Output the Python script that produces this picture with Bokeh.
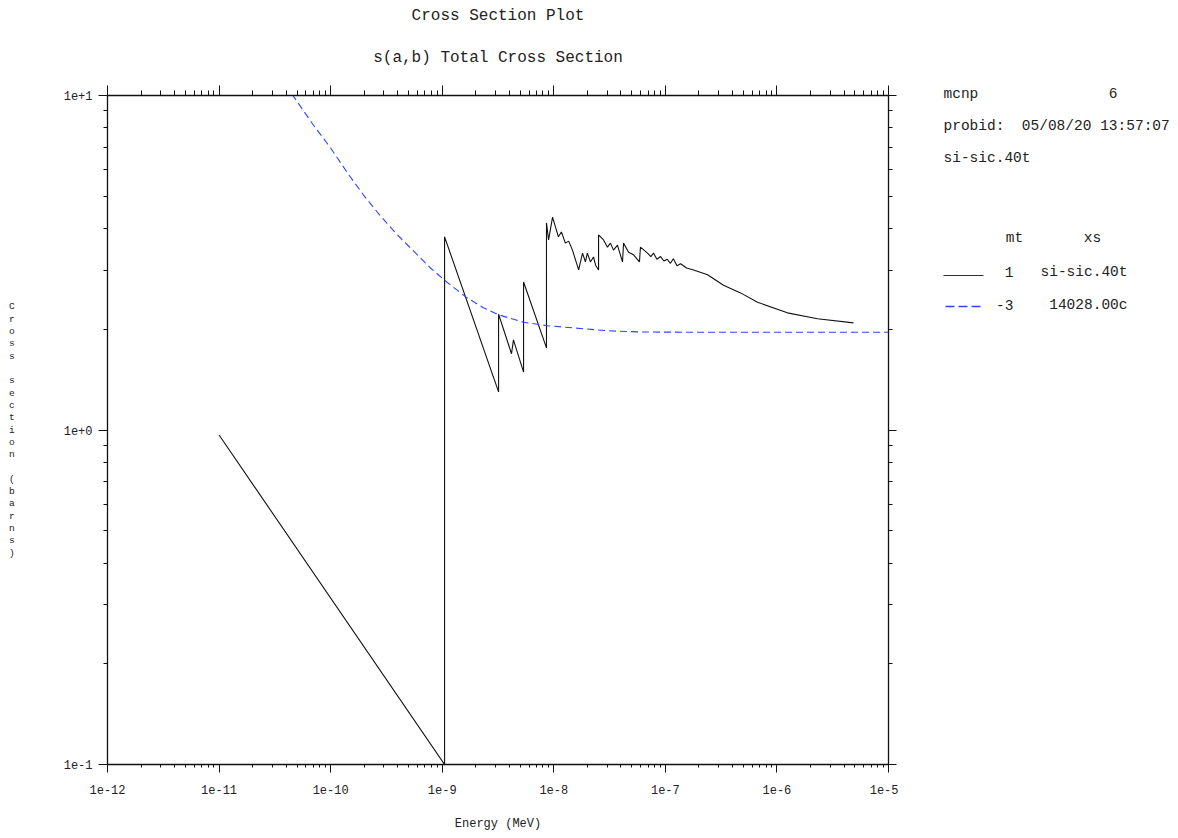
from bokeh.plotting import figure
from bokeh.models import LogAxis, FixedTicker, CustomJSTickFormatter, Range1d, Title
from bokeh.layouts import row
from bokeh.embed import file_html
from bokeh.resources import INLINE
from bokeh.core.properties import value

# ---- data ----
energy_total = [1.0e-11, 1.05e-9, 1.05e-9, 3.20e-9, 3.20e-9, 4.18e-9, 4.35e-9, 5.36e-9, 5.36e-9,
                8.60e-9, 8.60e-9, 8.98e-9, 9.75e-9, 1.10e-8, 1.17e-8, 1.27e-8, 1.36e-8, 1.47e-8,
                1.67e-8, 1.81e-8, 1.92e-8, 2.00e-8, 2.13e-8, 2.27e-8, 2.37e-8, 2.52e-8, 2.52e-8,
                2.79e-8, 3.03e-8, 3.22e-8, 3.43e-8, 3.72e-8, 4.13e-8, 4.22e-8, 4.68e-8, 5.19e-8,
                5.86e-8, 5.98e-8, 6.92e-8, 7.40e-8, 7.83e-8, 8.40e-8, 9.06e-8, 9.70e-8, 1.04e-7,
                1.11e-7, 1.18e-7, 1.27e-7, 1.37e-7, 1.55e-7, 1.79e-7, 2.39e-7, 3.32e-7, 4.72e-7,
                6.70e-7, 1.24e-6, 2.31e-6, 4.85e-6]
xs_total = [0.966, 0.100, 3.78, 1.30, 2.22, 1.69, 1.86, 1.49, 2.77,
            1.76, 4.16, 3.70, 4.33, 3.78, 3.91, 3.62, 3.67, 3.45,
            3.01, 3.38, 3.18, 3.38, 3.18, 3.29, 3.11, 3.01, 3.83,
            3.70, 3.52, 3.62, 3.45, 3.57, 3.18, 3.62, 3.40, 3.34,
            3.18, 3.52, 3.38, 3.30, 3.38, 3.24, 3.30, 3.20, 3.24,
            3.15, 3.25, 3.10, 3.14, 3.05, 3.01, 2.91, 2.71, 2.57,
            2.41, 2.24, 2.15, 2.09]

energy_elastic = [4.5e-11, 7.0e-11, 1.0e-10, 1.42e-10, 1.97e-10, 2.8e-10, 3.97e-10, 5.53e-10,
                  7.85e-10, 1.07e-9, 1.62e-9, 2.34e-9, 3.2e-9, 5.36e-9, 8.79e-9, 1.5e-8, 3.03e-8,
                  5.99e-8, 2.0e-7, 1.0e-5]
xs_elastic = [10.1, 8.16, 6.97, 5.86, 5.04, 4.36, 3.83, 3.43,
              3.05, 2.79, 2.50, 2.32, 2.21, 2.10, 2.05, 2.02, 1.98,
              1.963, 1.96, 1.96]

x_major = [1e-12, 1e-11, 1e-10, 1e-9, 1e-8, 1e-7, 1e-6, 1e-5]
x_tick_labels = ["1e-12", "1e-11", "1e-10", "1e-9", "1e-8", "1e-7", "1e-6", "1e-5"]
y_major = [0.1, 1.0, 10.0]
y_tick_labels = ["1e-1", "1e+0", "1e+1"]
x_minor = [m * 10.0 ** k for k in range(-12, -5) for m in range(2, 10)]
y_minor = [m * 10.0 ** k for k in (-1, 0) for m in range(2, 10)]

title_main = "Cross Section Plot"
title_sub = "s(a,b) Total Cross Section"
code_name, code_version = "mcnp", "6"
info_lines = ["probid:\u00a0 05/08/20 13:57:07", "si-sic.40t"]
legend_head = ["mt", "xs"]
legend_mt = ["1", "-3"]
legend_xs = ["si-sic.40t", "14028.00c"]

FONT = "Liberation Mono"
TXT = "#222222"
BLACK = "#111111"
BLUE = "#2b45ff"

# layout geometry (pixels)
PW, QW, H = 898, 272, 834
FL, FR, FT, FB = 107, 888, 95, 764

fmt_code = """
let best = 0, bd = Infinity;
for (let i = 0; i < vals.length; i++) {
  const d = Math.abs(Math.log10(vals[i]) - Math.log10(tick));
  if (d < bd) { bd = d; best = i; }
}
return labels[best];
"""

p = figure(width=PW, height=H, x_axis_type="log", y_axis_type="log",
           x_range=Range1d(1e-12, 1e-5), y_range=Range1d(0.1, 10),
           output_backend="svg", toolbar_location=None,
           min_border_left=FL, min_border_right=PW - FR, min_border_top=FT, min_border_bottom=H - FB)
p.grid.visible = False
p.outline_line_color = None
p.background_fill_color = "white"
p.border_fill_color = "white"

xt = FixedTicker(ticks=x_major, minor_ticks=x_minor)
yt = FixedTicker(ticks=y_major, minor_ticks=y_minor)
xf = CustomJSTickFormatter(args=dict(vals=x_major, labels=x_tick_labels), code=fmt_code)
yf = CustomJSTickFormatter(args=dict(vals=y_major, labels=y_tick_labels), code=fmt_code)
blank = CustomJSTickFormatter(code="return ' ';")


def style_axis(ax, major_out, minor_out):
    ax.axis_line_color = BLACK
    ax.axis_line_width = 1.3
    ax.major_tick_line_color = BLACK
    ax.minor_tick_line_color = BLACK
    ax.major_tick_in = 0
    ax.minor_tick_in = 0
    ax.major_tick_out = major_out
    ax.minor_tick_out = minor_out
    ax.major_label_text_font = FONT
    ax.major_label_text_font_size = "12px"
    ax.major_label_text_color = TXT


xa = p.xaxis[0]
xa.ticker = xt
xa.formatter = xf
style_axis(xa, 8, 3)
xa.major_label_standoff = 12
xa.axis_label = "Energy (MeV)"
xa.axis_label_text_font = FONT
xa.axis_label_text_font_size = "12px"
xa.axis_label_text_font_style = "normal"
xa.axis_label_text_color = TXT
xa.axis_label_standoff = 20

ya = p.yaxis[0]
ya.ticker = yt
ya.formatter = yf
style_axis(ya, 9, 4)
ya.major_label_standoff = 6
ya.axis_label = "\n".join(list("Cross section (barns)"))
ya.axis_label_orientation = "horizontal"
ya.axis_label_text_font = FONT
ya.axis_label_text_font_size = "9.5px"
ya.axis_label_text_font_style = "normal"
ya.axis_label_text_color = TXT
ya.axis_label_text_line_height = 1.12
ya.axis_label_standoff = 46

top = LogAxis(ticker=FixedTicker(ticks=x_major, minor_ticks=x_minor), formatter=blank)
style_axis(top, 10, 5)
top.major_label_text_font_size = "6px"
top.major_label_text_color = None
top.major_label_standoff = 0
p.add_layout(top, "above")

right = LogAxis(ticker=FixedTicker(ticks=y_major, minor_ticks=y_minor), formatter=blank)
style_axis(right, 8, 4)
right.major_label_text_font_size = "6px"
right.major_label_text_color = None
right.major_label_standoff = 0
p.add_layout(right, "right")

# titles: the sub title sits next to the top axis, the main title outermost
p.add_layout(Title(text=title_sub, align="center", text_font=FONT, text_font_style="normal",
                   text_font_size="16px", text_color=TXT, standoff=38), "above")
p.title.text = title_main
p.title.align = "center"
p.title.text_font = FONT
p.title.text_font_style = "normal"
p.title.text_font_size = "16px"
p.title.text_color = TXT
p.title.standoff = 6

p.line(energy_total, xs_total, line_color=BLACK, line_width=1.1)
p.line(energy_elastic, xs_elastic, line_color=BLUE, line_width=1.1, line_dash="7 4")

# ---- side panel: its frame lines up with the main frame (page y 95..764) ----
q = figure(width=QW, height=H, x_range=Range1d(PW, PW + QW), y_range=Range1d(FB, FT),
           output_backend="svg", toolbar_location=None,
           x_axis_location=None, y_axis_location=None, min_border=0)
q.grid.visible = False
q.outline_line_color = None
q.background_fill_color = "white"
q.border_fill_color = "white"

q.title.text = code_name + "\u00a0" * 15 + code_version
q.title.align = "left"
q.title.offset = 943 - PW
q.title.text_font = FONT
q.title.text_font_style = "normal"
q.title.text_font_size = "14.5px"
q.title.text_color = TXT
q.title.standoff = -12

tf = value(FONT)
q.text(x=[943, 943], y=[125, 157], text=info_lines, text_font=tf, text_font_size="14.5px",
       text_color=TXT, text_baseline="middle", text_align="left")
q.text(x=[1014, 1092], y=[237, 237], text=legend_head, text_font=tf, text_font_size="14.5px",
       text_color=TXT, text_baseline="middle", text_align="center")
q.text(x=[1013, 1013], y=[271, 304], text=legend_mt, text_font=tf, text_font_size="14.5px",
       text_color=TXT, text_baseline="middle", text_align="right")
q.text(x=[1127, 1127], y=[271, 304], text=legend_xs, text_font=tf, text_font_size="14.5px",
       text_color=TXT, text_baseline="middle", text_align="right")
q.line([943, 983], [275, 275], line_color="#333333", line_width=1.1)
q.line([945, 982], [306, 306], line_color=BLUE, line_width=1.3, line_dash="9 4")

open("out.html", "w").write(file_html(row(p, q), INLINE))
